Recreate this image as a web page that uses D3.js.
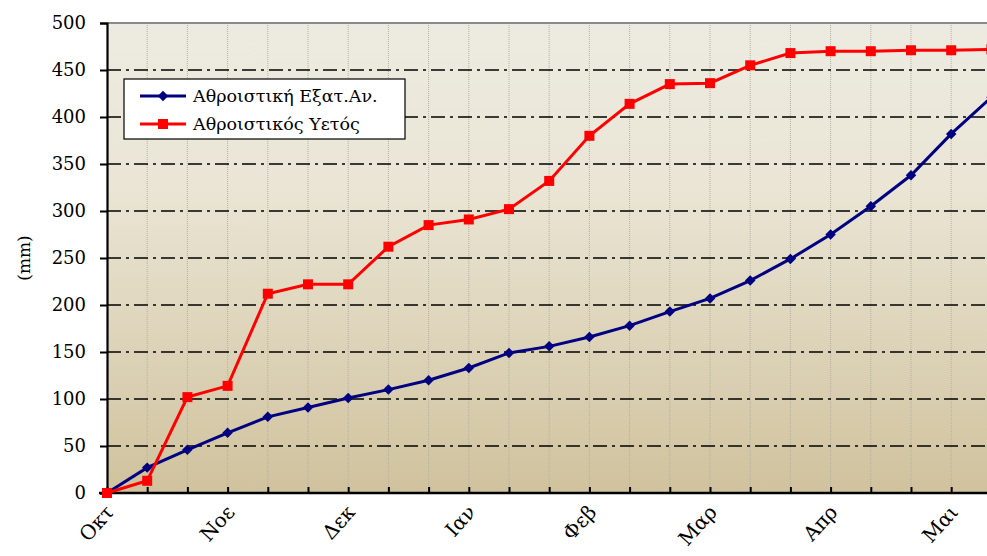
<!DOCTYPE html>
<html>
<head>
<meta charset="utf-8">
<script src="https://cdn.jsdelivr.net/npm/d3@7"></script>
<style>
  body { margin: 0; background: #fff; }
  svg { display: block; }
  svg text { font-family: "DejaVu Serif", serif; }
</style>
</head>
<body>
<svg id="chart" width="987" height="556"></svg>
<script>
var width = 987,
    height = 556;

// 10-day periods, month label every third point
const months = ["Οκτ", "Νοε", "Δεκ", "Ιαν", "Φεβ", "Μαρ", "Απρ", "Μαι"];
const evap = [0, 27, 46, 64, 81, 91, 101, 110, 120, 133, 149, 156, 166, 178, 193, 207, 226, 249, 275, 305, 338, 382, 421];
const rain = [0, 13, 102, 114, 212, 222, 222, 262, 285, 291, 302, 332, 380, 414, 435, 436, 455, 468, 470, 470, 471, 471, 472];
const yTicks = [0, 50, 100, 150, 200, 250, 300, 350, 400, 450, 500];
const seriesNames = ["Αθροιστική Εξατ.Αν.", "Αθροιστικός Υετός"];

const plotLeft = 107, plotTop = 23, plotBottom = 493;
const step = 40.2;

var svg = d3.select("#chart");

var x = d3.scaleLinear().domain([0, 1]).range([plotLeft, plotLeft + step]);
var y = d3.scaleLinear().domain([0, 500]).range([plotBottom, plotTop]);

var defs = svg.append("defs");
var grad = defs.append("linearGradient")
    .attr("id", "bg")
    .attr("x1", 0).attr("y1", 0).attr("x2", 0).attr("y2", 1);
grad.append("stop").attr("offset", "0%").attr("stop-color", "#edebe1");
grad.append("stop").attr("offset", "35%").attr("stop-color", "#eae5d5");
grad.append("stop").attr("offset", "100%").attr("stop-color", "#d0c29d");

// plot background
svg.append("rect")
    .attr("x", plotLeft)
    .attr("y", y(500))
    .attr("width", width - plotLeft)
    .attr("height", y(0) - y(500))
    .attr("fill", "url(#bg)");

var idx = d3.range(evap.length + 1);

// vertical dotted grid
svg.append("g")
    .selectAll("line")
    .data(idx.slice(1))
    .join("line")
    .attr("x1", function (d) { return x(d); })
    .attr("x2", function (d) { return x(d); })
    .attr("y1", y(500))
    .attr("y2", y(0))
    .attr("stroke", "#b5b0a2")
    .attr("stroke-width", 1)
    .attr("stroke-dasharray", "1,1");

// horizontal dash-dot grid
svg.append("g")
    .selectAll("line")
    .data(yTicks.filter(function (d) { return d > 0 && d < 500; }))
    .join("line")
    .attr("x1", plotLeft)
    .attr("x2", width)
    .attr("y1", function (d) { return y(d); })
    .attr("y2", function (d) { return y(d); })
    .attr("stroke", "#000")
    .attr("stroke-width", 1.6)
    .attr("stroke-dasharray", "14,5,3,5");

// top border
svg.append("line")
    .attr("x1", plotLeft).attr("x2", width)
    .attr("y1", y(500)).attr("y2", y(500))
    .attr("stroke", "#8a8a8a")
    .attr("stroke-width", 2);

// y axis
var yAxis = d3.axisLeft(y).tickValues(yTicks).tickSize(7).tickPadding(14);
var gy = svg.append("g")
    .attr("transform", "translate(" + plotLeft + ",0)")
    .call(yAxis);
gy.select(".domain").attr("stroke", "#000").attr("stroke-width", 2.2);
gy.selectAll(".tick line").attr("stroke", "#000").attr("stroke-width", 2);
gy.selectAll("text")
    .style("font-family", "'DejaVu Serif', serif")
    .attr("font-size", 18)
    .attr("fill", "#000");

// x axis: inner ticks at each period
var xAxis = d3.axisBottom(x).tickValues(idx).tickSize(-6).tickFormat("");
var gx = svg.append("g")
    .attr("transform", "translate(0," + plotBottom + ")")
    .call(xAxis);
gx.select(".domain").remove();
gx.selectAll(".tick line").attr("stroke", "#000").attr("stroke-width", 2);
svg.append("line")
    .attr("x1", plotLeft - 8).attr("x2", width)
    .attr("y1", plotBottom).attr("y2", plotBottom)
    .attr("stroke", "#000")
    .attr("stroke-width", 2.5);

// month labels
svg.append("g")
    .selectAll("text")
    .data(months)
    .join("text")
    .attr("transform", function (d, i) {
        return "translate(" + (x(i * 3) + 8) + "," + (plotBottom + 20) + ") rotate(-48)";
    })
    .attr("text-anchor", "end")
    .attr("font-size", 20)
    .attr("fill", "#000")
    .text(function (d) { return d; });

// y title
svg.append("text")
    .attr("transform", "translate(30," + ((plotTop + plotBottom) / 2) + ") rotate(-90)")
    .attr("text-anchor", "middle")
    .attr("font-size", 17)
    .text("(mm)");

var line = d3.line()
    .x(function (d, i) { return x(i); })
    .y(function (d) { return y(d); });

// evaporation series
svg.append("path")
    .datum(evap)
    .attr("d", line)
    .attr("fill", "none")
    .attr("stroke", "#000080")
    .attr("stroke-width", 3);
svg.append("g")
    .selectAll("path")
    .data(evap)
    .join("path")
    .attr("d", d3.symbol().type(d3.symbolDiamond2).size(70))
    .attr("transform", function (d, i) { return "translate(" + x(i) + "," + y(d) + ")"; })
    .attr("fill", "#000080");

// rainfall series
svg.append("path")
    .datum(rain)
    .attr("d", line)
    .attr("fill", "none")
    .attr("stroke", "#ff0000")
    .attr("stroke-width", 3);
svg.append("g")
    .selectAll("rect")
    .data(rain)
    .join("rect")
    .attr("x", function (d, i) { return x(i) - 5; })
    .attr("y", function (d) { return y(d) - 5; })
    .attr("width", 10)
    .attr("height", 10)
    .attr("fill", "#ff0000");

// legend
var legend = svg.append("g").attr("transform", "translate(124,79)");
legend.append("rect")
    .attr("width", 281)
    .attr("height", 60)
    .attr("fill", "#fff")
    .attr("stroke", "#000")
    .attr("stroke-width", 1.2);
var colors = ["#000080", "#ff0000"];
seriesNames.forEach(function (name, k) {
    var ly = 17 + k * 28;
    legend.append("line")
        .attr("x1", 16).attr("x2", 62)
        .attr("y1", ly).attr("y2", ly)
        .attr("stroke", colors[k])
        .attr("stroke-width", 3);
    if (k == 0) {
        legend.append("path")
            .attr("d", d3.symbol().type(d3.symbolDiamond2).size(70))
            .attr("transform", "translate(39," + ly + ")")
            .attr("fill", colors[k]);
    } else {
        legend.append("rect")
            .attr("x", 34).attr("y", ly - 5)
            .attr("width", 10).attr("height", 10)
            .attr("fill", colors[k]);
    }
    legend.append("text")
        .attr("x", 69)
        .attr("y", ly + 6)
        .attr("font-size", 17.5)
        .text(name);
});
</script>
</body>
</html>
